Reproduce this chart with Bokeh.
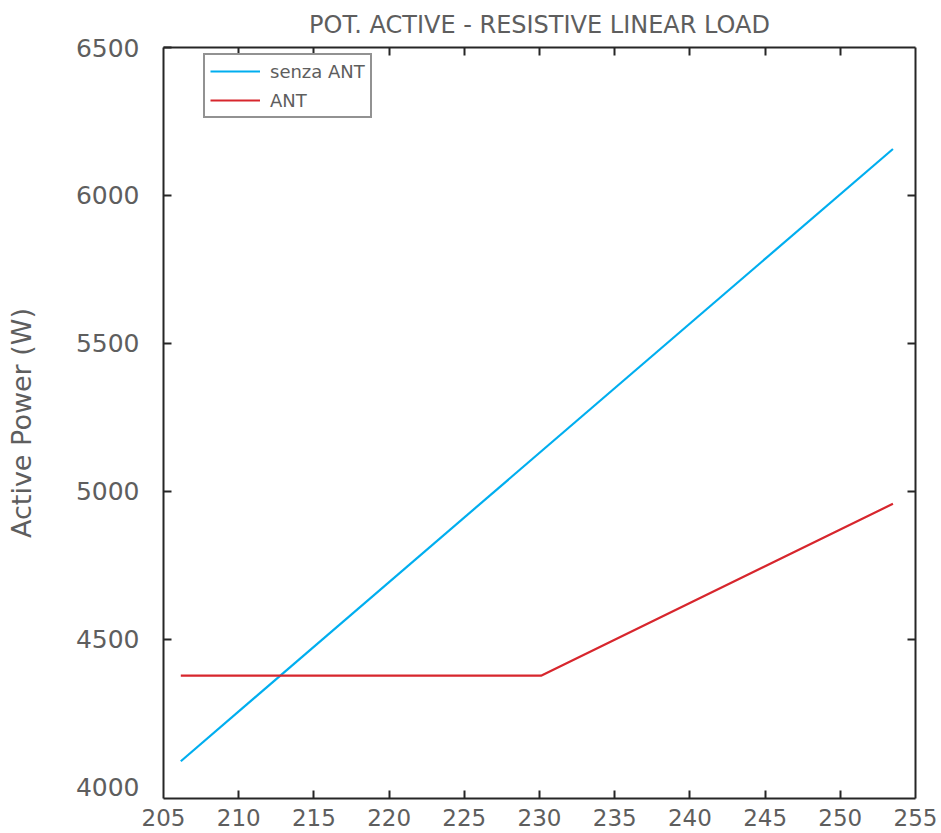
from bokeh.plotting import figure
from bokeh.models import Range1d, LinearAxis, FixedTicker, Legend, LegendItem
from bokeh.embed import file_html
from bokeh.resources import INLINE

# ---- data ----
voltage_senza = [206.15, 253.5]
power_senza = [4088, 6157]
voltage_ant = [206.15, 230.1, 253.5]
power_ant = [4377, 4377, 4958]

x_ticks = [205, 210, 215, 220, 225, 230, 235, 240, 245, 250, 255]
y_ticks = [4000, 4500, 5000, 5500, 6000, 6500]
series_names = ["senza ANT", "ANT"]
series_colors = ["#00AEEF", "#D7262D"]
title_text = "POT. ACTIVE - RESISTIVE LINEAR LOAD"
y_label = "Active Power (W)"

FONT = "DejaVu Sans"
TXT = "#5e5e5e"
AX = "#262626"

FRAME_H = 751
p = figure(frame_width=752, frame_height=FRAME_H, output_backend="svg", toolbar_location=None,
           x_range=Range1d(205, 255), y_range=Range1d(3962, 6500),
           min_border_left=163, min_border_right=26, min_border_top=45, min_border_bottom=37,
           x_axis_location=None, y_axis_location=None)
p.grid.visible = False
p.outline_line_color = None
p.background_fill_color = "white"
p.border_fill_color = "white"

p.title.text = title_text
p.title.align = "center"
p.title.text_font = FONT
p.title.text_font_size = "24px"
p.title.text_font_style = "normal"
p.title.text_color = TXT
p.title.standoff = 17


def style_axis(ax, size="24px"):
    ax.axis_line_color = AX
    ax.axis_line_width = 2
    # tick marks are drawn as (inward) minor ticks so that the corner ticks stay hidden
    ax.major_tick_line_color = None
    ax.major_tick_in = 0
    ax.major_tick_out = 0
    ax.minor_tick_line_color = AX
    ax.minor_tick_line_width = 2
    ax.minor_tick_in = 8
    ax.minor_tick_out = 0
    ax.major_label_text_font = FONT
    ax.major_label_text_color = TXT
    ax.major_label_text_font_size = size


x_marks = x_ticks[1:-1]
y_marks = y_ticks[1:-1]

bottom = LinearAxis(ticker=FixedTicker(ticks=x_ticks, minor_ticks=x_marks))
style_axis(bottom, "23px")
bottom.major_label_standoff = 10
p.add_layout(bottom, "below")

top = LinearAxis(ticker=FixedTicker(ticks=[], minor_ticks=x_marks))
style_axis(top)
p.add_layout(top, "above")

left = LinearAxis(ticker=FixedTicker(ticks=y_ticks, minor_ticks=y_ticks[1:]), axis_label=y_label)
style_axis(left, "25px")
left.major_label_standoff = 24
left.axis_label_text_font = FONT
left.axis_label_text_font_size = "27px"
left.axis_label_text_font_style = "normal"
left.axis_label_text_color = TXT
left.axis_label_standoff = 36
p.add_layout(left, "left")

right = LinearAxis(ticker=FixedTicker(ticks=[], minor_ticks=y_marks))
style_axis(right)
p.add_layout(right, "right")

r1 = p.line(voltage_senza, power_senza, line_color=series_colors[0], line_width=2.2)
r2 = p.line(voltage_ant, power_ant, line_color=series_colors[1], line_width=2.2)

legend = Legend(items=[LegendItem(label=series_names[0], renderers=[r1]),
                       LegendItem(label=series_names[1], renderers=[r2])],
                location=(40, FRAME_H - 10 - 61))
legend.label_text_font = FONT
legend.label_text_font_size = "18px"
legend.label_text_color = TXT
legend.border_line_color = AX
legend.border_line_width = 2
legend.background_fill_color = "white"
legend.background_fill_alpha = 1
legend.padding = 5
legend.spacing = 7
legend.glyph_width = 50
legend.glyph_height = 22
legend.label_height = 22
legend.label_standoff = 10
legend.margin = 0
p.add_layout(legend, "center")

open("out.html", "w").write(file_html(p, INLINE))
